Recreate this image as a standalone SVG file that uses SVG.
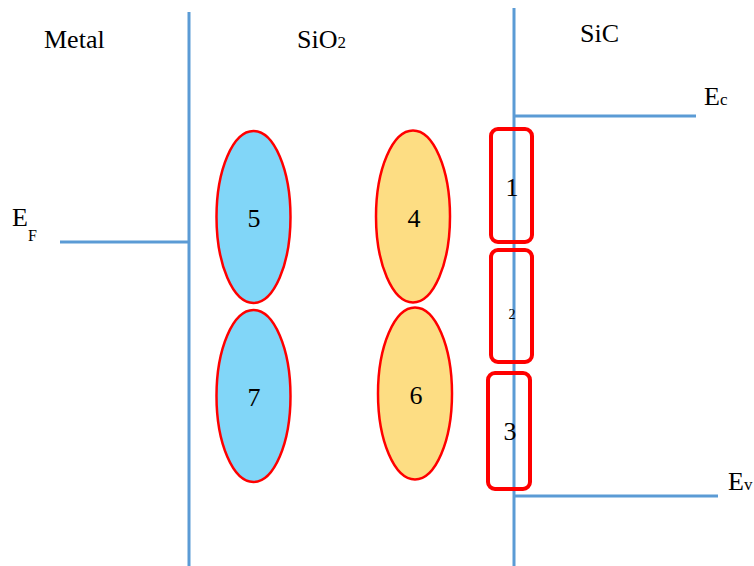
<svg xmlns="http://www.w3.org/2000/svg" width="754" height="566" viewBox="0 0 754 566">
  <style>
    .lvl { stroke: #5B9BD5; stroke-width: 3; fill: none; }
    .lbl { font-family: "Liberation Serif", "Times New Roman", serif; fill: #000; }
    .big { font-size: 26px; }
    .num { font-size: 26px; text-anchor: middle; }
    .trapO { stroke: #FF0000; stroke-width: 2.5; }
    .acc { fill: #81D6F8; }
    .don { fill: #FDDD83; }
    .trapI { fill: none; stroke: #FF0000; stroke-width: 4; }
  </style>
  <rect width="754" height="566" fill="#FFFFFF"/>

  <!-- band lines and interfaces -->
  <g id="connectors">
    <line class="lvl" x1="189" y1="12" x2="189" y2="566"/>
    <line class="lvl" x1="514" y1="8" x2="514" y2="566"/>
    <line class="lvl" x1="60" y1="242" x2="189" y2="242"/>
    <line class="lvl" x1="514" y1="116" x2="696" y2="116"/>
    <line class="lvl" x1="514" y1="496" x2="718" y2="496"/>
  </g>

  <!-- region and level labels -->
  <g id="labels">
    <text class="lbl big" x="44" y="48">Metal</text>
    <text class="lbl big" x="297" y="48">SiO<tspan font-size="17">2</tspan></text>
    <text class="lbl big" x="580" y="42">SiC</text>
    <text class="lbl big" x="704" y="105">E<tspan font-size="17">c</tspan></text>
    <text class="lbl big" x="12" y="226">E</text>
    <text class="lbl" font-size="16" x="28" y="241">F</text>
    <text class="lbl big" x="728" y="490">E<tspan font-size="17">v</tspan></text>
  </g>

  <!-- oxide traps -->
  <g id="n5">
    <ellipse class="acc trapO" cx="253.5" cy="217" rx="37" ry="86"/>
    <text class="lbl num" x="254" y="227">5</text>
  </g>
  <g id="n7">
    <ellipse class="acc trapO" cx="253.5" cy="396" rx="37" ry="86"/>
    <text class="lbl num" x="254" y="406">7</text>
  </g>
  <g id="n4">
    <ellipse class="don trapO" cx="413" cy="216.5" rx="37" ry="86"/>
    <text class="lbl num" x="414" y="227">4</text>
  </g>
  <g id="n6">
    <ellipse class="don trapO" cx="415" cy="393.5" rx="37" ry="86"/>
    <text class="lbl num" x="416" y="404">6</text>
  </g>

  <!-- interface traps -->
  <g id="n1">
    <rect class="trapI" x="491" y="129" width="41" height="113" rx="7"/>
    <text class="lbl num" x="512" y="196">1</text>
  </g>
  <g id="n2">
    <rect class="trapI" x="491" y="250" width="41" height="112" rx="7"/>
    <text class="lbl" font-size="14" text-anchor="middle" x="512" y="319">2</text>
  </g>
  <g id="n3">
    <rect class="trapI" x="488" y="373" width="42" height="116" rx="7"/>
    <text class="lbl num" x="510" y="440">3</text>
  </g>
</svg>
